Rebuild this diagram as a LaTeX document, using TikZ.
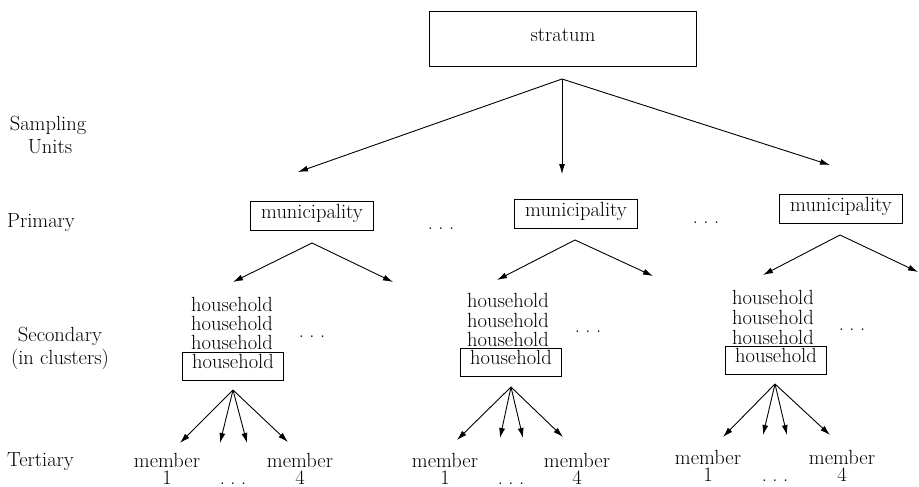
\documentclass[tikz,border=0pt]{standalone}
\usepackage{fontspec}
\usetikzlibrary{arrows.meta}
\newcommand{\tdots}{.\kern0.27em.\kern0.27em.}
\begin{document}
\begin{tikzpicture}[x=1pt,y=-1pt,
  font=\fontsize{20.5}{22}\selectfont,
  conn/.style={line width=0.9pt, -{Latex[length=10pt,width=6pt]}},
  unitbox/.style={draw, line width=0.9pt, inner sep=0pt, text height=0.72em, text depth=0.2em},
  stratbox/.style={unitbox, minimum width=267pt, minimum height=55pt},
  munbox/.style={unitbox, minimum width=123pt, minimum height=29pt},
  hhbox/.style={unitbox, minimum width=101pt, minimum height=28pt},
  lbl/.style={anchor=base, inner sep=0pt},
  lblw/.style={anchor=base west, inner sep=0pt},
  memlbl/.style={anchor=base, inner sep=0pt, align=center, font=\fontsize{20.5}{16.8}\selectfont}
]
\useasboundingbox (0,0) rectangle (919,487);

% row labels
\node[lbl] (sampling) at (48,131) {Sampling};
\node[lbl] (units) at (50,153) {Units};
\node[lblw] (primary) at (7,227) {Primary};
\node[lbl] (secondary) at (60,341) {Secondary};
\node[lbl] (inclusters) at (60,364) {(in clusters)};
\node[lblw] (tertiary) at (7,466) {Tertiary};

% stratum
\node[stratbox] (stratum) at (563,38.5) {stratum};
\coordinate (sA) at (562,79);
\coordinate (s1) at (298,172);
\coordinate (s2) at (562,174);
\coordinate (s3) at (830,165);
\draw[conn] (sA) -- (s1);
\draw[conn] (sA) -- (s2);
\draw[conn] (sA) -- (s3);

% municipalities
\node[munbox] (mun1) at (312,216) {municipality};
\node[munbox] (mun2) at (576,214) {municipality};
\node[munbox] (mun3) at (841,209) {municipality};
\node[lbl] (mdots1) at (441,229) {\tdots};
\node[lbl] (mdots2) at (706,223) {\tdots};

\coordinate (mA1) at (312,243);
\coordinate (mA2) at (575,240);
\coordinate (mA3) at (840,235);
\coordinate (m1l) at (233,282);
\coordinate (m1r) at (393,282);
\coordinate (m2l) at (497,280);
\coordinate (m2r) at (653,276);
\coordinate (m3l) at (763,275);
\coordinate (m3r) at (918,272);
\draw[conn] (mA1) -- (m1l);
\draw[conn] (mA1) -- (m1r);
\draw[conn] (mA2) -- (m2l);
\draw[conn] (mA2) -- (m2r);
\draw[conn] (mA3) -- (m3l);
\draw[conn] (mA3) -- (m3r);

% households, cluster 1
\node[lbl] (h1a) at (232,311) {household};
\node[lbl] (h1b) at (232,330) {household};
\node[lbl] (h1c) at (232,349) {household};
\node[hhbox] (hh1) at (233,366) {household};
\node[lbl] (hdots1) at (312,337) {\tdots};
% households, cluster 2
\node[lbl] (h2a) at (508,307) {household};
\node[lbl] (h2b) at (508,327) {household};
\node[lbl] (h2c) at (508,346) {household};
\node[hhbox] (hh2) at (511,362) {household};
\node[lbl] (hdots2) at (588,332) {\tdots};
% households, cluster 3
\node[lbl] (h3a) at (773,304) {household};
\node[lbl] (h3b) at (773,324) {household};
\node[lbl] (h3c) at (773,344) {household};
\node[hhbox] (hh3) at (776,360) {household};
\node[lbl] (hdots3) at (852,330) {\tdots};

% member arrows
\coordinate (hA1) at (233,390);
\coordinate (hA2) at (511,387);
\coordinate (hA3) at (775,384);
\foreach \i/\x/\y in {1/180/443, 2/220/443, 3/247/443, 4/288/442}{
  \coordinate (t1\i) at (\x,\y);
  \draw[conn] (hA1) -- (t1\i);
}
\foreach \i/\x/\y in {1/457/440, 2/500/438, 3/523/438, 4/563/437}{
  \coordinate (t2\i) at (\x,\y);
  \draw[conn] (hA2) -- (t2\i);
}
\foreach \i/\x/\y in {1/723/437, 2/763/435, 3/787/435, 4/830/435}{
  \coordinate (t3\i) at (\x,\y);
  \draw[conn] (hA3) -- (t3\i);
}

% members
\node[memlbl] (mem11) at (167,484) {member\\1};
\node[lbl] (md1) at (233,484) {\tdots};
\node[memlbl] (mem14) at (300,484) {member\\4};

\node[memlbl] (mem21) at (445,484) {member\\1};
\node[lbl] (md2) at (511,484) {\tdots};
\node[memlbl] (mem24) at (577,484) {member\\4};

\node[memlbl] (mem31) at (708,481) {member\\1};
\node[lbl] (md3) at (775,481) {\tdots};
\node[memlbl] (mem34) at (842,481) {member\\4};
\end{tikzpicture}
\end{document}
